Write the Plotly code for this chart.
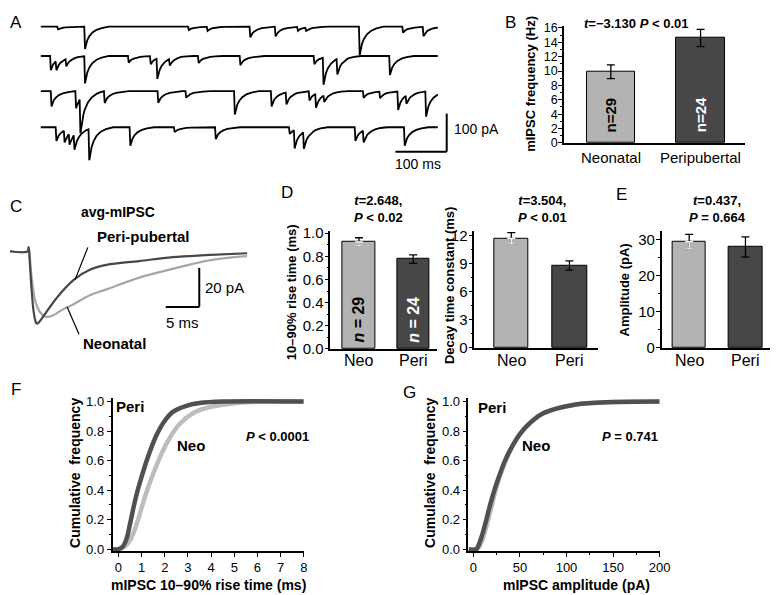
import numpy as np
import plotly.graph_objects as go

W, H = 778, 595
FONT = "Arial, 'Liberation Sans', sans-serif"
DARK = "#474747"
LIGHT = "#b3b3b3"

# ---------------- data ----------------
# A: spontaneous mIPSC events per sweep (onset ms, amplitude pA)
sweep1_t = [32.7, 85.3, 287.8, 324.3, 407.7, 457.0, 500.6, 516.6, 621.1, 705.7, 745.5]
sweep1_a = [7, 60, 9, 11, 29, 26, 11, 9, 77, 16, 25]
sweep2_t = [18.6, 29.5, 48.7, 85.3, 170.5, 213.5, 226.3, 250.6, 307.0, 388.4, 532.7, 550.6, 577.5, 680.1]
sweep2_a = [38, 25, 20, 73, 18, 22, 55, 18, 19, 25, 22, 73, 42, 51]
sweep3_t = [19.9, 67.9, 76.3, 123.7, 228.2, 282.7, 377.5, 449.3, 478.2, 523.1, 535.9, 551.9,
            628.8, 660.9, 696.1, 712.2, 750.6]
sweep3_a = [41, 46, 94, 32, 32, 18, 63, 41, 32, 25, 37, 18, 18, 18, 50, 22, 68]
sweep4_t = [29.5, 45.5, 55.1, 64.7, 93.6, 173.7, 260.2, 340.4, 484.6, 494.2, 512.2, 612.8, 628.8, 708.9]
sweep4_a = [37, 32, 30, 41, 85, 50, 13, 32, 18, 50, 46, 37, 32, 50]
sweep_end = 775
# normalised single-event shape
event_t = [0, 1.5, 3, 6, 10, 16, 24, 34, 48]
event_shape = [0, -1, -0.85, -0.6, -0.42, -0.26, -0.14, -0.06, 0]

# B: mIPSC frequency
freq_groups = ["Neonatal", "Peripubertal"]
freq_mean = [9.9, 14.6]
freq_sem = [0.95, 1.2]
freq_n = ["n=29", "n=24"]

# C: averaged mIPSC (ms, pA)
peri_avg_t = [-2.79, -0.15, 0, 0.15, 0.44, 0.74, 1.03, 1.18, 1.47, 2.35, 4.26, 6.76, 9.12, 11.6, 16.5, 21.5, 26.3, 32.6]
peri_avg_i = [0, 0, 2, -5, -20, -31, -36, -37, -36.5, -32.5, -23.5, -14.5, -9.5, -7, -5, -3, -2, -1]
neo_avg_t = [-2.79, -0.15, 0, 0.44, 1.03, 1.76, 2.5, 3.53, 5.0, 6.76, 9.12, 11.6, 16.5, 21.5, 26.3, 30.7, 32.6]
neo_avg_i = [0, 0, 2, -13.5, -26, -31.5, -33.5, -33, -30, -27, -22.5, -19.5, -13.5, -9, -5, -3, -2.5]

# D, E: kinetics and amplitude
short_groups = ["Neo", "Peri"]
rise_mean = [0.925, 0.775]
rise_sem = [0.035, 0.037]
rise_n = ["<i>n</i> = 29", "<i>n</i> = 24"]
decay_mean = [11.7, 8.8]
decay_sem = [0.6, 0.5]
amp_mean = [29.4, 27.9]
amp_sem = [2.0, 2.8]

# F, G: cumulative distributions
rise_peri_x = [-0.25, 0, 0.2, 0.35, 0.5, 0.65, 0.8, 1.0, 1.2, 1.45, 1.7, 2.0, 2.35, 2.9, 3.5, 4.5, 8]
rise_peri_y = [0, 0, 0.02, 0.07, 0.17, 0.28, 0.38, 0.49, 0.59, 0.7, 0.79, 0.87, 0.93, 0.97, 0.99, 1.0, 1.0]
rise_neo_x = [-0.25, 0, 0.3, 0.5, 0.7, 0.85, 1.0, 1.2, 1.4, 1.65, 1.9, 2.2, 2.65, 3.25, 4.0, 5.1, 6, 8]
rise_neo_y = [0, 0, 0.02, 0.06, 0.13, 0.2, 0.28, 0.38, 0.47, 0.57, 0.66, 0.75, 0.85, 0.925, 0.965, 0.99, 1.0, 1.0]
amp_peri_x = [-5, 3, 7, 11, 14, 18, 22.6, 28, 34, 42, 50, 60, 72, 88, 110, 142, 200]
amp_peri_y = [0, 0, 0.05, 0.13, 0.2, 0.3, 0.4, 0.5, 0.6, 0.7, 0.78, 0.85, 0.91, 0.95, 0.98, 0.995, 1.0]
amp_neo_x = [-5, 4, 9, 13, 16, 20, 24, 29, 35, 42, 50, 60, 72, 88, 110, 142, 200]
amp_neo_y = [0, 0, 0.05, 0.13, 0.2, 0.3, 0.4, 0.5, 0.6, 0.7, 0.78, 0.85, 0.91, 0.95, 0.98, 0.995, 1.0]


def dx(px):
    return px / W


def dy(py):
    return 1 - py / H


fig = go.Figure()
annotations = []
shapes = []


def label(text, px, py, size=14, bold=False, angle=0, color="black", xanchor="center"):
    if bold:
        text = "<b>" + text + "</b>"
    annotations.append(dict(text=text, x=dx(px), y=dy(py), xref="paper", yref="paper",
                            showarrow=False, textangle=angle, xanchor=xanchor, yanchor="middle",
                            font=dict(family=FONT, size=size, color=color)))


def cat_label(text, cat, ax, py, size, angle=0, color="black"):
    annotations.append(dict(text=text, x=cat, y=dy(py), xref="x" + ax, yref="paper",
                            showarrow=False, textangle=angle, xanchor="center", yanchor="middle",
                            font=dict(family=FONT, size=size, color=color)))


def pline(x0, y0, x1, y1, width=1.5, color="black"):
    shapes.append(dict(type="line", xref="paper", yref="paper", x0=dx(x0), y0=dy(y0),
                       x1=dx(x1), y1=dy(y1), line=dict(color=color, width=width)))


# ---------------- A: raw traces ----------------
row_px = [13, 43, 79, 116]
pA_per_px = 1 / 0.38
sweeps = [(sweep1_t, sweep1_a), (sweep2_t, sweep2_a), (sweep3_t, sweep3_a), (sweep4_t, sweep4_a)]
for (ts, amps), rp in zip(sweeps, row_px):
    grid = sorted(set([0, sweep_end] + [t + s for t in ts for s in event_t if t + s <= sweep_end]
                      + [t - 0.01 for t in ts]))
    grid = np.array(grid)
    trace = np.zeros_like(grid)
    for t, a in zip(ts, amps):
        trace += a * np.interp(grid - t, event_t, event_shape, left=0, right=0)
    fig.add_trace(go.Scatter(x=grid, y=trace - rp * pA_per_px, mode="lines",
                             line=dict(color="black", width=1.8), xaxis="x", yaxis="y",
                             hoverinfo="skip"))

# scale bars A
pline(445, 102, 445, 141, 2)
pline(393, 141, 445, 141, 2)
label("100 pA", 450, 118, 14, xanchor="left")
label("100 ms", 416, 154, 14)

# ---------------- B ----------------
fig.add_trace(go.Bar(x=freq_groups, y=freq_mean, marker=dict(color=[LIGHT, DARK], line=dict(color="black", width=1)),
                     width=0.54, error_y=dict(type="data", array=freq_sem, color="black", thickness=1.3, width=4),
                     xaxis="x2", yaxis="y2"))
for g, txt, col in zip(freq_groups, freq_n, ["black", "white"]):
    cat_label("<b>" + txt + "</b>", g, "2", 103, 15, angle=-90, color=col)
    cat_label(g, g, "2", 147, 15)
label("<i>t</i>=−3.130 <i>P</i> &lt; 0.01", 637, 10, 13, bold=True)
label("mIPSC frequency (Hz)", 530, 72, 13, bold=True, angle=-90)

# ---------------- C ----------------
fig.add_trace(go.Scatter(x=neo_avg_t, y=neo_avg_i, mode="lines", line=dict(color="#a6a6a6", width=2.2),
                         xaxis="x3", yaxis="y3", line_shape="spline"))
fig.add_trace(go.Scatter(x=peri_avg_t, y=peri_avg_i, mode="lines", line=dict(color=DARK, width=2.2),
                         xaxis="x3", yaxis="y3", line_shape="spline"))
pline(194, 260, 194, 300, 2)
pline(160, 300, 194, 300, 2)
label("20 pA", 198, 280, 15, xanchor="left")
label("5 ms", 177, 316, 15)
label("avg-mIPSC", 112, 203, 14, bold=True)
label("Peri-pubertal", 137, 228, 15, bold=True)
label("Neonatal", 108, 337, 15, bold=True)
pline(81, 239, 68, 272, 1.2)
pline(60, 300, 72, 328, 1.2)


# ---------------- D, E ----------------
def bar_panel(ax, means, sems, white_low, n_text=None):
    fig.add_trace(go.Bar(x=short_groups, y=means, marker=dict(color=[LIGHT, DARK], line=dict(color="black", width=1)),
                         width=0.6, error_y=dict(type="data", array=sems, color="black", thickness=1.3, width=4),
                         xaxis="x" + ax, yaxis="y" + ax))
    if white_low:
        fig.add_trace(go.Scatter(x=short_groups[:1], y=means[:1], mode="markers",
                                 marker=dict(size=1, color="rgba(0,0,0,0)"),
                                 error_y=dict(type="data", symmetric=False, array=[0], arrayminus=sems[:1],
                                              color="white", thickness=1.3, width=4),
                                 xaxis="x" + ax, yaxis="y" + ax))
    for g in short_groups:
        cat_label(g, g, ax, 355, 16)
    if n_text:
        for g, txt, col in zip(short_groups, n_text, ["black", "white"]):
            cat_label("<b>" + txt + "</b>", g, ax, 313, 16, angle=-90, color=col)


bar_panel("4", rise_mean, rise_sem, True, rise_n)
bar_panel("5", decay_mean, decay_sem, True)
bar_panel("6", amp_mean, amp_sem, True)
label("<i>t</i>=2.648,<br><i>P</i> &lt; 0.02", 376, 200, 13, bold=True)
label("<i>t</i>=3.504,<br><i>P</i> &lt; 0.01", 542, 200, 13, bold=True)
label("<i>t</i>=0.437,<br><i>P</i> = 0.664", 720, 200, 13, bold=True)
label("10–90% rise time (ms)", 287, 285, 13, bold=True, angle=-90)
label("Decay time constant (ms)", 448, 278, 13, bold=True, angle=-90)
label("Amplitude (pA)", 625, 283, 13, bold=True, angle=-90)

# ---------------- F, G ----------------
fig.add_trace(go.Scatter(x=rise_neo_x, y=rise_neo_y, mode="lines", line=dict(color="#bdbdbd", width=4.5, shape="spline"),
                         xaxis="x7", yaxis="y7"))
fig.add_trace(go.Scatter(x=rise_peri_x, y=rise_peri_y, mode="lines", line=dict(color="#505050", width=4.5, shape="spline"),
                         xaxis="x7", yaxis="y7"))
fig.add_trace(go.Scatter(x=amp_neo_x, y=amp_neo_y, mode="lines", line=dict(color="#bdbdbd", width=4.5, shape="spline"),
                         xaxis="x8", yaxis="y8"))
fig.add_trace(go.Scatter(x=amp_peri_x, y=amp_peri_y, mode="lines", line=dict(color="#505050", width=4.5, shape="spline"),
                         xaxis="x8", yaxis="y8"))
label("Peri", 124, 402, 15, bold=True)
label("Neo", 186, 442, 15, bold=True)
label("<i>P</i> &lt; 0.0001", 273, 433, 13, bold=True)
label("Cumulative  frequency", 68, 470, 14, bold=True, angle=-90)
label("mIPSC 10–90% rise time (ms)", 203, 585, 14, bold=True)
label("Peri", 491, 403, 15, bold=True)
label("Neo", 536, 442, 15, bold=True)
label("<i>P</i> = 0.741", 631, 433, 13, bold=True)
label("Cumulative  frequency", 428, 470, 14, bold=True, angle=-90)
label("mIPSC amplitude (pA)", 577, 585, 14, bold=True)

# panel letters
for ch, px, py in [("A", 8, 9), ("B", 510, 9), ("C", 8, 197), ("D", 283, 183), ("E", 622, 185),
                   ("F", 8, 385), ("G", 407, 388)]:
    label(ch, px, py, 17)

# ---------------- axes ----------------
ax_line = dict(showline=True, linecolor="black", linewidth=1.5, showgrid=False, zeroline=False,
               tickfont=dict(family=FONT, size=14, color="black"), ticks="outside", ticklen=4,
               tickcolor="black", tickwidth=1.2)
bar_y = dict(ax_line, ticklabelstandoff=-2)
bar_x = dict(showline=True, linecolor="black", linewidth=1.5, showgrid=False, zeroline=False,
             showticklabels=False, ticks="")
minor = dict(ticks="outside", ticklen=2, tickcolor="black")
f15 = dict(family=FONT, size=15, color="black")
f13 = dict(family=FONT, size=13, color="black")
f12 = dict(family=FONT, size=12.5, color="black")


def xdom(a, b):
    return [dx(a), dx(b)]


def ydom(top, bottom):
    return [dy(bottom), dy(top)]


layout = dict(
    xaxis=dict(domain=xdom(33, 460), range=[0, (460 - 33) / 0.52], visible=False, anchor="y"),
    yaxis=dict(domain=ydom(0, 150), range=[-150 * pA_per_px, 0], visible=False, anchor="x"),
    xaxis2=dict(bar_x, domain=xdom(564, 748), range=[-0.522, 1.5], anchor="y2"),
    yaxis2=dict(bar_y, domain=ydom(12, 132), range=[0, 16.3], anchor="x2", dtick=2,
                tickfont=f12, minor=dict(minor, dtick=1)),
    xaxis3=dict(domain=xdom(2, 243), range=[(2 - 21) / 6.8, (243 - 21) / 6.8], visible=False, anchor="y3"),
    yaxis3=dict(domain=ydom(230, 330), range=[-43.5, 6.5], visible=False, anchor="x3"),
    xaxis4=dict(bar_x, domain=xdom(327, 435), range=[-0.527, 1.436], anchor="y4"),
    yaxis4=dict(bar_y, domain=ydom(222, 343), range=[0, 1.02], anchor="x4", dtick=0.2, tickformat=".1f",
                tickfont=f15, minor=dict(minor, dtick=0.1)),
    xaxis5=dict(bar_x, domain=xdom(473, 598), range=[-0.636, 1.483], anchor="y5"),
    yaxis5=dict(bar_y, domain=ydom(222, 342), range=[0, 12.5], anchor="x5", dtick=3,
                tickfont=f15, minor=dict(minor, dtick=1.5)),
    xaxis6=dict(bar_x, domain=xdom(663, 776), range=[-0.49, 1.49], anchor="y6"),
    yaxis6=dict(bar_y, domain=ydom(222, 342), range=[0, 32.4], anchor="x6", dtick=10,
                tickfont=f15, minor=dict(minor, dtick=5)),
    xaxis7=dict(ax_line, domain=xdom(106, 300), range=[-0.255, 8], anchor="y7", dtick=1, tickfont=f13),
    yaxis7=dict(ax_line, domain=ydom(393, 550), range=[-0.0132, 1.026], anchor="x7", dtick=0.2, tickformat=".1f",
                tickfont=f13, minor=dict(minor, dtick=0.1)),
    xaxis8=dict(ax_line, domain=xdom(467, 661), range=[-5.3, 200], anchor="y8", dtick=50,
                tickfont=f13, minor=dict(minor, dtick=25)),
    yaxis8=dict(ax_line, domain=ydom(393, 550), range=[-0.0132, 1.026], anchor="x8", dtick=0.2, tickformat=".1f",
                tickfont=f13, minor=dict(minor, dtick=0.1)),
)

fig.update_layout(**layout)
fig.update_layout(width=W, height=H, margin=dict(l=0, r=0, t=0, b=0), showlegend=False,
                  plot_bgcolor="white", paper_bgcolor="white", bargap=0,
                  font=dict(family=FONT, color="black"),
                  annotations=annotations, shapes=shapes)

fig.write_html("out.html")
